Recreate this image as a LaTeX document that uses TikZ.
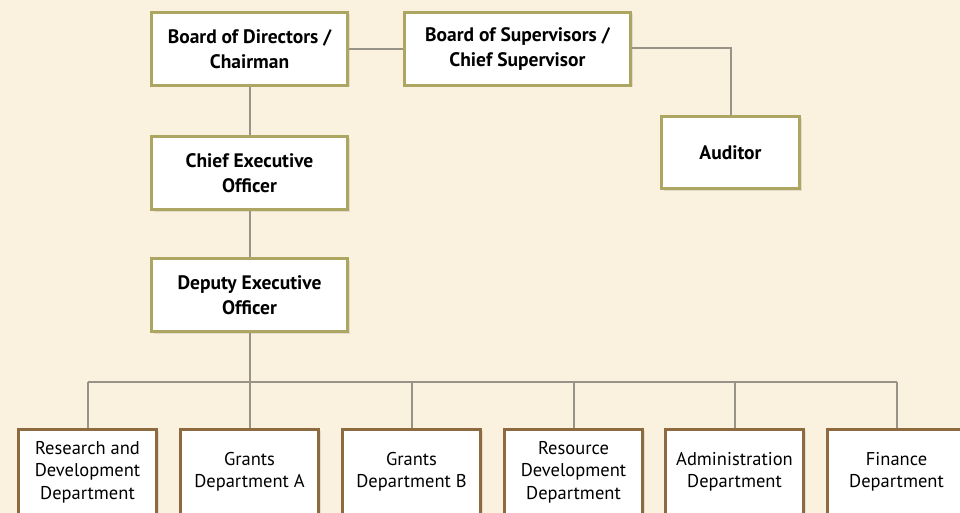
\documentclass[tikz,border=0pt]{standalone}
\usepackage{fontspec}
\setmainfont{PT Sans}
\usetikzlibrary{shadows}
\definecolor{bgcream}{RGB}{250,241,222}
\definecolor{olivebd}{RGB}{172,166,98}
\definecolor{brownbd}{RGB}{142,106,64}
\definecolor{linegray}{RGB}{152,147,137}
\tikzset{
  topbox/.style={draw=olivebd, line width=3pt, fill=white, minimum width=196pt, minimum height=73pt, inner sep=0pt, align=center,
    font=\bfseries\fontsize{19.5}{25}\selectfont,
    drop shadow={opacity=0.18, shadow xshift=2pt, shadow yshift=-2pt}},
  deptbox/.style={draw=brownbd, line width=3pt, fill=white, minimum width=138pt, minimum height=86pt, inner sep=0pt, align=center,
    font=\fontsize{18.5}{22.5}\selectfont,
    drop shadow={opacity=0.18, shadow xshift=2pt, shadow yshift=-2pt}},
  conn/.style={draw=linegray, line width=2pt}
}
\begin{document}
\begin{tikzpicture}[x=1pt, y=-1pt]
\fill[bgcream] (0,0) rectangle (960,513);
\useasboundingbox (0,0) rectangle (960,513);
\coordinate (audc) at (730.5,48.5);
\coordinate (busL) at (87.5,381.5);
\coordinate (busR) at (896.5,381.5);
\coordinate (busM) at (249.5,381.5);
\node[topbox, minimum width=196pt] (bod) at (249.5,49) {Board of Directors /\\Chairman};
\node[topbox, minimum width=226pt] (bos) at (517.5,49) {Board of Supervisors /\\Chief Supervisor};
\node[topbox, minimum width=138pt, minimum height=72pt] (aud) at (730.5,152.5) {Auditor};
\node[topbox] (ceo) at (249.5,173) {Chief Executive\\Officer};
\node[topbox] (dep) at (249.5,295) {Deputy Executive\\Officer};
\node[deptbox] (d1) at (87.5,472) {Research and\\Development\\Department};
\node[deptbox] (d2) at (249.5,472) {Grants\\Department A};
\node[deptbox] (d3) at (411.5,472) {Grants\\Department B};
\node[deptbox] (d4) at (573.5,472) {Resource\\Development\\Department};
\node[deptbox] (d5) at (734.5,472) {Administration\\Department};
\node[deptbox] (d6) at (896.5,472) {Finance\\Department};
\draw[conn] (bod.east) -- (bos.west);
\draw[conn] (bos.east |- audc) -- (audc) -- (aud.north);
\draw[conn] (bod.south) -- (ceo.north);
\draw[conn] (ceo.south) -- (dep.north);
\draw[conn] (dep.south) -- (busM);
\draw[conn] (busL) -- (busR);
\foreach \d in {d1,d2,d3,d4,d5,d6} {
  \draw[conn] (\d.north |- busL) -- (\d.north);
}
\end{tikzpicture}
\end{document}
